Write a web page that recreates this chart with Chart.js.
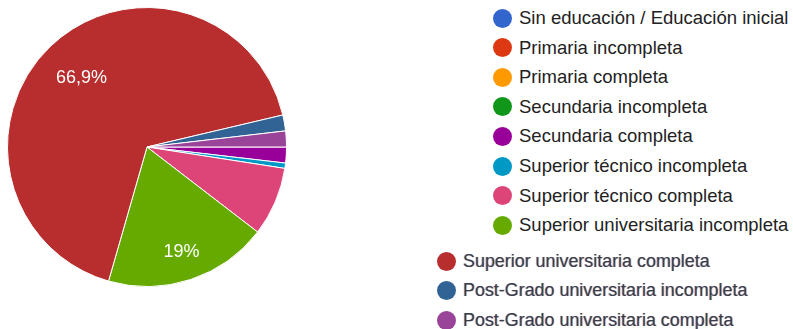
<!DOCTYPE html>
<html lang="es">
<head>
<meta charset="utf-8">
<script src="https://cdn.jsdelivr.net/npm/chart.js@4.4.1/dist/chart.umd.min.js"></script>
<style>
  html, body { margin: 0; padding: 0; background: #fff; }
  body { width: 793px; height: 329px; position: relative; overflow: hidden; font-family: Arial, "Liberation Sans", sans-serif; }
  #pie { position: absolute; left: 7px; top: 7px; }
  .legend { position: absolute; margin: 0; padding: 0; list-style: none; }
  .legend li { position: absolute; white-space: nowrap; }
  .legend .dot { position: absolute; border-radius: 50%; }
  #legendA { left: 0; top: 0; }
  #legendA li { left: 519px; font-size: 18.5px; color: #222; }
  #legendA .dot { width: 19px; height: 19px; left: -26px; top: 50%; margin-top: -9.5px; }
  #legendB { left: 0; top: 0; }
  #legendB li { left: 463px; font-size: 17.9px; color: #3a3d4c;
    text-shadow: -0.8px 0 rgba(40, 120, 255, 0.4), 0.8px 0 rgba(255, 150, 30, 0.45); }
  #legendB .dot { width: 19px; height: 19px; left: -26px; top: 50%; margin-top: -9.5px; filter: blur(0.6px); }
</style>
</head>
<body>
<canvas id="pie" width="280" height="280"></canvas>
<ul class="legend" id="legendA"></ul>
<ul class="legend" id="legendB"></ul>
<script>
// nivel educativo: respuestas por categoría
const categories = [
  'Sin educación / Educación inicial',
  'Primaria incompleta',
  'Primaria completa',
  'Secundaria incompleta',
  'Secundaria completa',
  'Superior técnico incompleta',
  'Superior técnico completa',
  'Superior universitaria incompleta',
  'Superior universitaria completa',
  'Post-Grado universitaria incompleta',
  'Post-Grado universitaria completa'
];
const responses = [0, 0, 0, 0, 3, 1, 13, 31, 109, 3, 3];
const sliceColors = [
  '#3366cc', '#dc3912', '#ff9900', '#109618', '#990099', '#0099c6',
  '#dd4477', '#66aa00', '#b82e2e', '#316395', '#994499'
];

const total = responses.reduce((a, b) => a + b, 0);
const pct = v => (Math.round(v / total * 1000) / 10).toLocaleString('es-ES') + '%';

// white percentage text inside the big slices
const sliceText = {
  id: 'sliceText',
  afterDatasetsDraw(chart, args, opts) {
    const { ctx } = chart;
    const meta = chart.getDatasetMeta(0);
    ctx.save();
    ctx.fillStyle = '#fff';
    ctx.font = '18px Arial, "Liberation Sans", sans-serif';
    ctx.textAlign = 'center';
    ctx.textBaseline = 'middle';
    meta.data.forEach((arc, i) => {
      const v = responses[i];
      if (v / total < opts.minShare) return;
      const p = arc.getProps(['x', 'y', 'startAngle', 'endAngle', 'outerRadius'], true);
      const mid = (p.startAngle + p.endAngle) / 2;
      const r = p.outerRadius * (opts.radius[i] || 0.72);
      ctx.fillText(pct(v), p.x + Math.cos(mid) * r, p.y + Math.sin(mid) * r);
    });
    ctx.restore();
  }
};

new Chart(document.getElementById('pie'), {
  type: 'pie',
  data: {
    labels: categories,
    datasets: [{
      data: responses,
      backgroundColor: sliceColors,
      borderColor: '#fff',
      borderWidth: 1,
      hoverOffset: 0,
      offset: 0
    }]
  },
  options: {
    responsive: false,
    animation: false,
    rotation: 90,
    layout: { padding: 0 },
    plugins: {
      legend: { display: false },
      tooltip: { enabled: false },
      sliceText: { minShare: 0.1, radius: { 7: 0.79, 8: 0.68 } }
    }
  },
  plugins: [sliceText]
});

// legend: first eight entries in one column, last three in a second block below
function fillLegend(el, from, to, top, step) {
  for (let i = from; i < to; i++) {
    const li = document.createElement('li');
    const dot = document.createElement('span');
    dot.className = 'dot';
    dot.style.background = sliceColors[i];
    li.appendChild(dot);
    li.appendChild(document.createTextNode(categories[i]));
    el.appendChild(li);
    const h = li.getBoundingClientRect().height;
    li.style.top = (top + (i - from) * step - h / 2) + 'px';
  }
}
fillLegend(document.getElementById('legendA'), 0, 8, 18, 29.6);
fillLegend(document.getElementById('legendB'), 8, 11, 261, 29.5);
</script>
</body>
</html>
